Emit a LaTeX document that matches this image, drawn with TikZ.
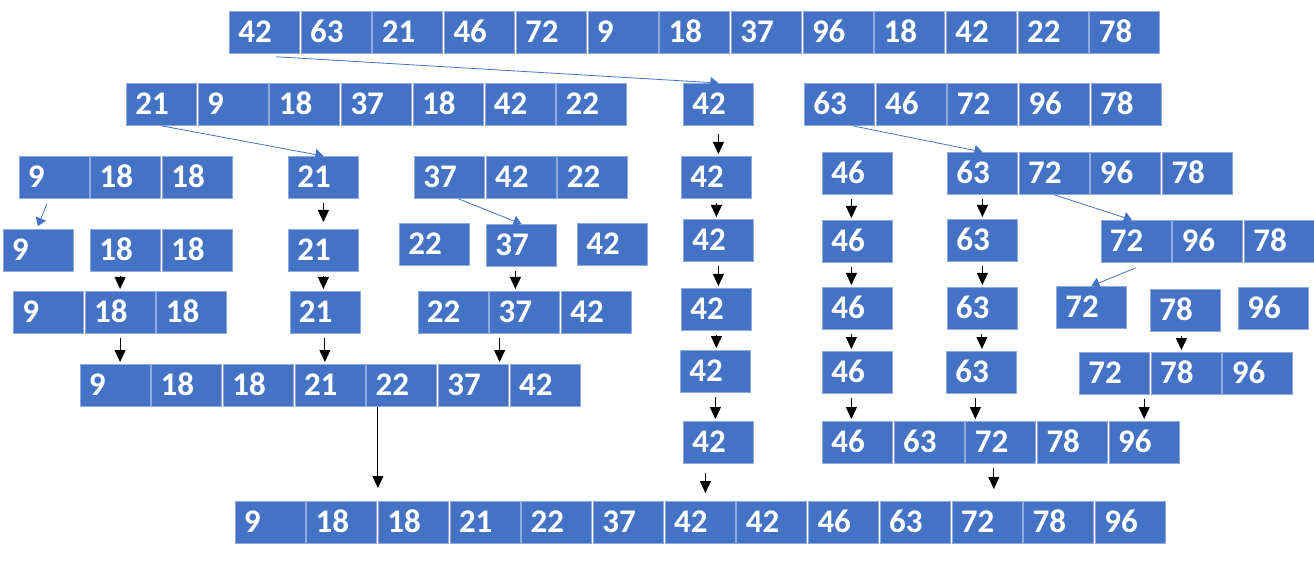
\documentclass[tikz,border=0pt]{standalone}
\usepackage{fontspec}
\setmainfont{Carlito}
\usetikzlibrary{calc,arrows.meta}
\definecolor{cellblue}{RGB}{68,114,196}
\definecolor{celledge}{RGB}{143,170,220}
% one row of cells, named <name>_1, <name>_2, ...
\newcommand{\cellrow}[4]{%
  \foreach \v [count=\i] in {#4}
    \node[cell] (#1_\i) at ({#2+(\i-1)*71.7},#3) {\v};%
}

\begin{document}
\begin{tikzpicture}[x=1pt,y=-1pt,
    cell/.style={anchor=north west, fill=cellblue, draw=celledge, line width=0.8pt,
      text=white, font=\fontsize{33}{33}\selectfont\bfseries, align=left,
      text width=52pt, inner xsep=9pt, inner ysep=0pt, minimum height=42pt,
      text height=21pt, text depth=0pt},
    split/.style={draw=cellblue, line width=0.8pt, -{Triangle[width=11pt,length=8pt]}},
    merge/.style={draw=black, line width=0.9pt, -{Triangle[width=11pt,length=12pt]},
      shorten <=4pt, shorten >=2pt}]
  \useasboundingbox (0,0) rectangle (1314,561);
  % 
  \cellrow{top}{229}{11}{42,63,21,46,72,9,18,37,96,18,42,22,78}
  \cellrow{left}{126}{83}{21,9,18,37,18,42,22}
  \cellrow{mida}{683}{83}{42}
  \cellrow{right}{804}{83}{63,46,72,96,78}
  % 
  \cellrow{ll}{18.5}{156}{9,18,18}
  \cellrow{lm}{288}{156}{21}
  \cellrow{lr}{414}{156}{37,42,22}
  \cellrow{midb}{681}{156}{42}
  \cellrow{rl}{822}{152}{46}
  \cellrow{rr}{947}{152}{63,72,96,78}
  % 
  \cellrow{lll}{2.5}{229}{9}
  \cellrow{llr}{90}{229}{18,18}
  \cellrow{lmb}{288}{229}{21}
  \cellrow{lra}{399}{223}{22}
  \cellrow{lrb}{486}{224}{37}
  \cellrow{lrc}{577}{223}{42}
  \cellrow{midc}{683}{219}{42}
  \cellrow{rlb}{822}{220}{46}
  \cellrow{rrl}{947}{219}{63}
  \cellrow{rrr}{1100.5}{220}{72,96,78}
  % 
  \cellrow{llm}{13}{291}{9,18,18}
  \cellrow{lmc}{289.5}{291}{21}
  \cellrow{lrm}{417.5}{291}{22,37,42}
  \cellrow{midd}{681}{288}{42}
  \cellrow{rlc}{822}{287}{46}
  \cellrow{rrm}{946.5}{287}{63}
  \cellrow{rra}{1056}{286}{72}
  \cellrow{rrb}{1150}{289}{78}
  \cellrow{rrc}{1238}{287}{96}
  % 
  \cellrow{lsort}{79.5}{364}{9,18,18,21,22,37,42}
  \cellrow{mide}{680}{350}{42}
  \cellrow{rld}{822}{351}{46}
  \cellrow{rrn}{946}{351}{63}
  \cellrow{rrs}{1079}{352}{72,78,96}
  % 
  \cellrow{midf}{683}{421}{42}
  \cellrow{rsort}{822}{421}{46,63,72,78,96}
  \cellrow{sorted}{234.5}{501}{9,18,18,21,22,37,42,42,46,63,72,78,96}

  % splitting
  \draw[split] ([xshift=12pt,yshift=-3pt]top_1.south) -- (mida_1.north);
  \draw[split] (left_1.south) -- (lm_1.north);
  \draw[split] ([xshift=13pt]right_1.south) -- (rr_1.north);
  \draw[split] ([xshift=-7pt,yshift=-5pt]ll_1.south) -- ([yshift=3pt]lll_1.north);
  \draw[split] ([xshift=9pt]lr_1.south) -- (lrb_1.north);
  \draw[split] (rr_2.south) -- ([xshift=-4pt]rrr_1.north);
  \draw[split] ([yshift=-5pt]rrr_1.south) -- (rra_1.north);

  % merging
  \draw[merge] (llr_1.south -| llm_2.north) -- (llm_2.north);
  \draw[merge, shorten >=7pt] (lm_1.south) -- (lm_1.south |- lmb_1.north);
  \draw[merge] (lmb_1.south) -- (lmb_1.south |- lmc_1.north);
  \draw[merge] ([xshift=-6pt]lrb_1.south) -- ([xshift=-6pt]lrb_1.south |- lrm_2.north);
  \draw[merge] (llm_2.south) -- (llm_2.south |- lsort_1.north);
  \draw[merge] (lmc_1.south) -- (lmc_1.south |- lsort_4.north);
  \draw[merge] ([xshift=-25pt]lrm_2.south) -- ([xshift=-25pt]lrm_2.south |- lsort_6.north);
  \draw[merge, shorten <=0pt, shorten >=13pt] (lsort_5.south -| sorted_3.north west) -- (sorted_3.north west);
  \draw[merge, shorten <=8pt] (mida_1.south) -- (mida_1.south |- midb_1.north);
  \draw[merge] (midb_1.south) -- (midb_1.south |- midc_1.north);
  \draw[merge] (midc_1.south) -- (midc_1.south |- midd_1.north);
  \draw[merge] (midd_1.south) -- (midd_1.south |- mide_1.north);
  \draw[merge] (mide_1.south) -- (mide_1.south |- midf_1.north);
  \draw[merge, shorten <=9pt, shorten >=8pt] ([xshift=-13pt]midf_1.south) -- ([xshift=-13pt]midf_1.south |- sorted_7.north);
  \draw[merge] ([xshift=-6pt]rl_1.south) -- ([xshift=-6pt]rl_1.south |- rlb_1.north);
  \draw[merge] ([xshift=-6pt]rlb_1.south) -- ([xshift=-6pt]rlb_1.south |- rlc_1.north);
  \draw[merge] ([xshift=-6pt]rlc_1.south) -- ([xshift=-6pt]rlc_1.south |- rld_1.north);
  \draw[merge] ([xshift=-6pt]rld_1.south) -- ([xshift=-6pt]rld_1.south |- rsort_1.north);
  \draw[merge] (rr_1.south) -- (rr_1.south |- rrl_1.north);
  \draw[merge] (rrl_1.south) -- (rrl_1.south |- rrm_1.north);
  \draw[merge] (rrm_1.south) -- (rrm_1.south |- rrn_1.north);
  \draw[merge] ([xshift=-6pt]rrn_1.south) -- ([xshift=-6pt]rrn_1.south |- rsort_3.north);
  \draw[merge] ([xshift=-4pt]rrb_1.south) -- ([xshift=-4pt]rrb_1.south |- rrs_2.north);
  \draw[merge] (rrs_1.south -| rsort_5.north) -- (rsort_5.north);
  \draw[merge, shorten >=12pt] ([xshift=-7pt]rsort_3.south) -- ([xshift=-7pt]rsort_3.south |- sorted_11.north);
\end{tikzpicture}
\end{document}
